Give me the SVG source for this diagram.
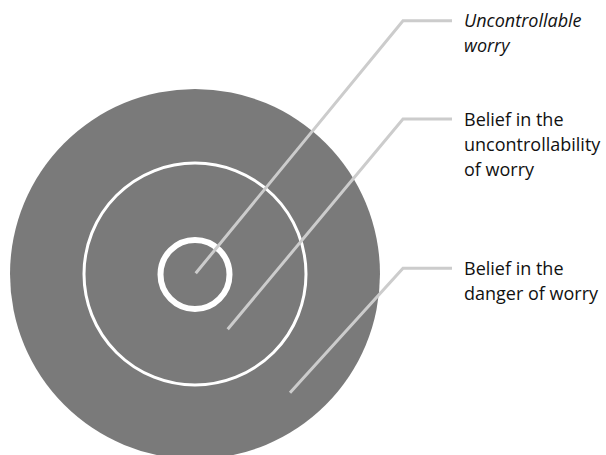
<svg xmlns="http://www.w3.org/2000/svg" width="606" height="455" viewBox="0 0 606 455">
<style>
.ring{fill:none;stroke:#ffffff}
.conn{fill:none;stroke:#cccccc;stroke-width:3;stroke-linejoin:miter}
.lbl{font-family:"Open Sans","Liberation Sans",sans-serif;font-size:18px;fill:#111111}
.it{font-style:italic}
</style>
<rect width="606" height="455" fill="#ffffff"/>
<g id="outer"><circle cx="195" cy="274" r="185" fill="#7a7a7a"/></g>
<g id="middle"><circle class="ring" cx="195" cy="274" r="111" stroke-width="3"/></g>
<g id="inner"><circle class="ring" cx="195" cy="274.5" r="34.5" stroke-width="6"/></g>
<g id="connectors">
<polyline class="conn" points="195.7,273.3 403,20.7 452,20.7"/>
<polyline class="conn" points="227.7,329.3 403,119 452,119"/>
<polyline class="conn" points="290,392.7 403,268.3 452,268.3"/>
</g>
<g id="label-uncontrollable-worry">
<text class="lbl it" x="464" y="27">Uncontrollable</text>
<text class="lbl it" x="464" y="52">worry</text>
</g>
<g id="label-belief-uncontrollability">
<text class="lbl" x="464" y="126">Belief in the</text>
<text class="lbl" x="464" y="151">uncontrollability</text>
<text class="lbl" x="464" y="176">of worry</text>
</g>
<g id="label-belief-danger">
<text class="lbl" x="464" y="275">Belief in the</text>
<text class="lbl" x="464" y="300">danger of worry</text>
</g>
</svg>
